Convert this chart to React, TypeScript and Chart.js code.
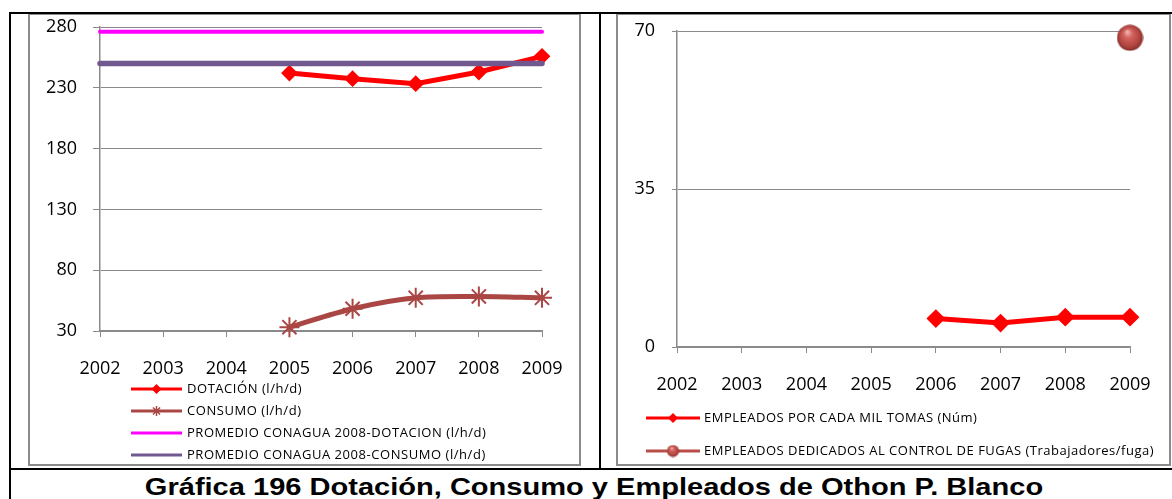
import React, { useEffect, useRef } from 'react';
import { Chart, registerables } from 'chart.js';

Chart.register(...registerables);

// ---------- data ----------
const years = ['2002', '2003', '2004', '2005', '2006', '2007', '2008', '2009'];
const dotacion = [null, null, null, 242.1, 237.5, 233.4, 243.0, 255.9];
const consumo = [null, null, null, 33.1, 48.3, 57.3, 58.4, 57.3];
const promedioDotacion = [276, 276, 276, 276, 276, 276, 276, 276];
const promedioConsumo = [250, 250, 250, 250, 250, 250, 250, 250];
const leftYTicks = [30, 280, 50]; // min, max, step

const empleadosMilTomas = [null, null, null, null, 6.3, 5.3, 6.6, 6.6];
const empleadosFugas = [null, null, null, null, null, null, null, 68.5];
const rightYTicks = [0, 70, 35]; // min, max, step

const leftLabels = [
  'DOTACIÓN (l/h/d)',
  'CONSUMO (l/h/d)',
  'PROMEDIO CONAGUA 2008-DOTACION (l/h/d)',
  'PROMEDIO CONAGUA 2008-CONSUMO (l/h/d)',
];
const rightLabels = [
  'EMPLEADOS POR CADA MIL TOMAS (Núm)',
  'EMPLEADOS DEDICADOS AL CONTROL DE FUGAS (Trabajadores/fuga)',
];
const titleText = 'Gráfica 196 Dotación, Consumo y Empleados de Othon P. Blanco';

// ---------- styles ----------
const GRID = '#8A8A8A';
const FONT = "'Open Sans', 'Noto Sans', sans-serif";
const RED = '#FF0000';
const BROWN = '#AA4643';
const PINK = '#FF00FF';
const PURPLE = '#71588F';

function makeSphere(d: number) {
  const c = document.createElement('canvas');
  c.width = d;
  c.height = d;
  const g = c.getContext('2d')!;
  const r = d / 2;
  const grad = g.createRadialGradient(r * 0.8, r * 0.55, r * 0.05, r, r, r);
  grad.addColorStop(0, '#F2B3AF');
  grad.addColorStop(0.3, '#D4625D');
  grad.addColorStop(0.75, '#B0443F');
  grad.addColorStop(1, '#7E2C29');
  g.fillStyle = grad;
  g.beginPath();
  g.arc(r, r, r - 0.5, 0, Math.PI * 2);
  g.fill();
  return c;
}

const lineLegend = {
  id: 'lineLegend',
  afterDraw(chart: any, _args: any, opts: any) {
    if (!opts || !opts.rows) return;
    const ctx = chart.ctx as CanvasRenderingContext2D;
    ctx.save();
    ctx.font = `${opts.fontSize}px ${FONT}`;
    (ctx as any).letterSpacing = opts.letterSpacing;
    ctx.textBaseline = 'middle';
    ctx.textAlign = 'left';
    chart.data.datasets.forEach((ds: any, i: number) => {
      const y = opts.rows[i];
      const m = ds.legendMarker || {};
      ctx.strokeStyle = ds.borderColor;
      ctx.lineWidth = opts.lineWidth;
      ctx.lineCap = 'butt';
      ctx.beginPath();
      ctx.moveTo(opts.x0, y);
      ctx.lineTo(opts.x1, y);
      ctx.stroke();
      const cx = (opts.x0 + opts.x1) / 2;
      if (m.type === 'diamond') {
        ctx.fillStyle = ds.pointBackgroundColor;
        ctx.beginPath();
        ctx.moveTo(cx - m.r, y);
        ctx.lineTo(cx, y - m.r);
        ctx.lineTo(cx + m.r, y);
        ctx.lineTo(cx, y + m.r);
        ctx.closePath();
        ctx.fill();
      } else if (m.type === 'star') {
        ctx.strokeStyle = ds.pointBorderColor;
        ctx.lineWidth = 1.5;
        ctx.beginPath();
        for (let k = 0; k < 4; k++) {
          const a = (k * Math.PI) / 4;
          ctx.moveTo(cx - Math.cos(a) * m.r, y - Math.sin(a) * m.r);
          ctx.lineTo(cx + Math.cos(a) * m.r, y + Math.sin(a) * m.r);
        }
        ctx.stroke();
      } else if (m.type === 'image') {
        ctx.drawImage(m.image, cx - m.image.width / 2, y - m.image.height / 2);
      }
      ctx.fillStyle = '#000';
      ctx.fillText(ds.label, opts.textX, y + 0.5);
    });
    ctx.restore();
  },
};

function baseScales(yTicks: number[], yOpts: any, xOpts: any) {
  return {
    x: {
      type: 'category',
      offset: false,
      grid: { display: true, drawOnChartArea: false, drawTicks: true, tickLength: 6, color: GRID, lineWidth: 1 },
      border: { display: true, color: GRID, width: 1.5 },
      ticks: { color: '#000', font: { family: FONT, size: 18 }, padding: 21, maxRotation: 0, autoSkip: false },
      afterFit: (s: any) => {
        s.height = xOpts.height;
        s.paddingLeft = 0;
        s.paddingRight = 0;
      },
    },
    y: {
      min: yTicks[0],
      max: yTicks[1],
      grid: { color: GRID, lineWidth: 1, tickLength: yOpts.tickLength, drawTicks: true },
      border: { display: true, color: GRID, width: 1.5 },
      ticks: { stepSize: yTicks[2], color: '#000', font: { family: FONT, size: 18 }, padding: yOpts.padding },
      afterFit: (s: any) => {
        s.width = yOpts.width;
        s.paddingTop = 0;
        s.paddingBottom = 0;
      },
    },
  };
}

function LeftChart() {
  const ref = useRef<HTMLCanvasElement>(null);
  useEffect(() => {
    const chart = new Chart(ref.current!, {
      type: 'line',
      data: {
        labels: years,
        datasets: [
          {
            label: leftLabels[0], data: dotacion, borderColor: RED, backgroundColor: RED,
            borderWidth: 5, pointStyle: 'rectRot', pointRadius: 7, pointBorderWidth: 2,
            pointBackgroundColor: RED, pointBorderColor: RED, tension: 0, clip: false, order: 4,
            legendMarker: { type: 'diamond', r: 5 },
          } as any,
          {
            label: leftLabels[1], data: consumo, borderColor: BROWN, backgroundColor: BROWN,
            borderWidth: 5, pointStyle: 'star', pointRadius: 10, pointBorderWidth: 2,
            pointBackgroundColor: BROWN, pointBorderColor: BROWN, tension: 0.3, clip: false, order: 3,
            legendMarker: { type: 'star', r: 5 },
          } as any,
          {
            label: leftLabels[2], data: promedioDotacion, borderColor: PINK, backgroundColor: PINK,
            borderWidth: 4, pointRadius: 0, borderCapStyle: 'round', clip: false, order: 2,
            legendMarker: { type: 'none' },
          } as any,
          {
            label: leftLabels[3], data: promedioConsumo, borderColor: PURPLE, backgroundColor: PURPLE,
            borderWidth: 5.5, pointRadius: 0, borderCapStyle: 'round', clip: false, order: 1,
            legendMarker: { type: 'none' },
          } as any,
        ],
      },
      options: {
        animation: false,
        responsive: false,
        events: [],
        layout: { padding: { left: 0, right: 37, top: 12, bottom: 73 } },
        scales: baseScales(leftYTicks, { width: 70, tickLength: 7, padding: 16 }, { height: 60 }) as any,
        plugins: {
          legend: { display: false },
          tooltip: { enabled: false },
          lineLegend: {
            rows: [374, 396, 418, 440], x0: 101, x1: 152, textX: 157,
            fontSize: 13, letterSpacing: '0.55px', lineWidth: 3,
          },
        } as any,
      },
      plugins: [lineLegend],
    });
    return () => chart.destroy();
  }, []);
  return (
    <canvas ref={ref} width={549} height={449}
      style={{ position: 'absolute', left: 30, top: 15, width: 549, height: 449 }} />
  );
}

function RightChart() {
  const ref = useRef<HTMLCanvasElement>(null);
  useEffect(() => {
    const sphere = makeSphere(27);
    const smallSphere = makeSphere(13);
    const chart = new Chart(ref.current!, {
      type: 'line',
      data: {
        labels: years,
        datasets: [
          {
            label: rightLabels[0], data: empleadosMilTomas, borderColor: RED, backgroundColor: RED,
            borderWidth: 5, pointStyle: 'rectRot', pointRadius: 8, pointBorderWidth: 2,
            pointBackgroundColor: RED, pointBorderColor: RED, tension: 0, clip: false, order: 2,
            legendMarker: { type: 'diamond', r: 5 },
          } as any,
          {
            label: rightLabels[1], data: empleadosFugas, borderColor: '#B84D49', backgroundColor: '#B84D49',
            borderWidth: 3, pointStyle: sphere, pointRadius: 13, clip: false, order: 1,
            legendMarker: { type: 'image', image: smallSphere },
          } as any,
        ],
      },
      options: {
        animation: false,
        responsive: false,
        events: [],
        layout: { padding: { left: 0, right: 38, top: 12, bottom: 57 } },
        scales: baseScales(rightYTicks, { width: 58, tickLength: 5, padding: 17 }, { height: 60 }) as any,
        plugins: {
          legend: { display: false },
          tooltip: { enabled: false },
          lineLegend: {
            rows: [403, 436], x0: 27, x1: 81, textX: 85,
            fontSize: 13, letterSpacing: '0.5px', lineWidth: 3,
          },
        } as any,
      },
      plugins: [lineLegend],
    });
    return () => chart.destroy();
  }, []);
  return (
    <canvas ref={ref} width={549} height={449}
      style={{ position: 'absolute', left: 619, top: 15, width: 549, height: 449 }} />
  );
}

const abs = (l: number, t: number, w: number, h: number, extra: any = {}) => ({
  position: 'absolute' as const, left: l, top: t, width: w, height: h, ...extra,
});

export default function App() {
  return (
    <div style={abs(0, 0, 1172, 499, { background: '#fff', overflow: 'hidden' })}>
      {/* chart frames */}
      <div style={abs(28, 13, 553, 453, { border: `2px solid ${GRID}`, boxSizing: 'border-box' })} />
      <div style={abs(616, 13, 555, 453, { border: `2px solid ${GRID}`, boxSizing: 'border-box' })} />
      <LeftChart />
      <RightChart />
      {/* table borders */}
      <div style={abs(9, 12, 1163, 2, { background: '#000' })} />
      <div style={abs(9, 12, 2, 487, { background: '#000' })} />
      <div style={abs(599, 12, 2, 458, { background: '#000' })} />
      <div style={abs(9, 468, 1163, 2, { background: '#000' })} />
      {/* title */}
      <div style={abs(0, 475, 1188, 24, {
        textAlign: 'center', fontFamily: "'Liberation Sans', Arial, sans-serif", fontWeight: 'bold',
        fontSize: 24, lineHeight: '24px', color: '#000', whiteSpace: 'nowrap',
        transform: 'scaleX(1.21)', transformOrigin: '594px 50%',
      })}>{titleText}</div>
    </div>
  );
}
